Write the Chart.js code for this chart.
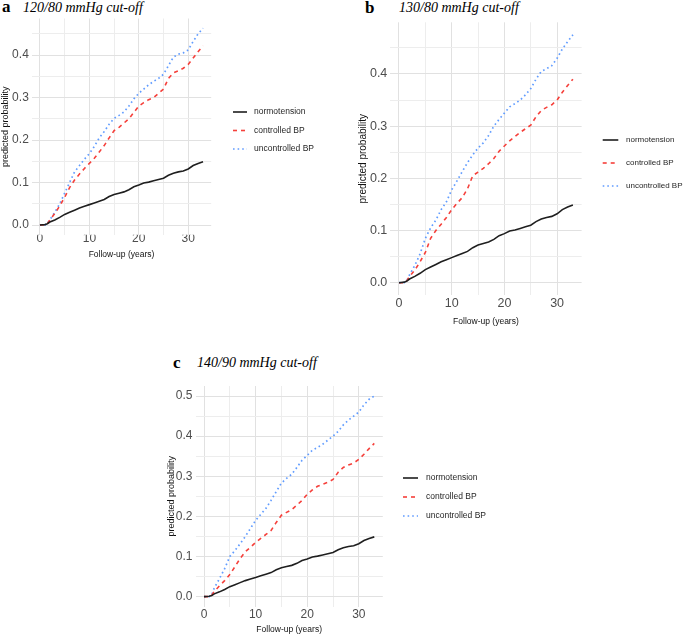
<!DOCTYPE html>
<html>
<head>
<meta charset="utf-8">
<script src="https://cdn.jsdelivr.net/npm/chart.js@4.4.1/dist/chart.umd.min.js"></script>
<style>
	html, body { margin: 0; padding: 0; background: #fff; overflow: hidden; }
	body { position: relative; width: 685px; height: 635px; }
	.box { position: absolute; }
	.tag, .cut { position: absolute; font-family: 'Liberation Serif', 'Times New Roman', serif; color: #000; white-space: nowrap; }
	.tag { font-size: 17px; line-height: 17px; font-weight: bold; }
	.cut { font-size: 14px; line-height: 14px; font-style: italic; }
</style>
</head>
<body>
<div class="tag" style="left:2px;top:-2px">a</div>
<div class="cut" style="left:23px;top:1px">120/80 mmHg cut-off</div>
<div class="tag" style="left:365px;top:-1px">b</div>
<div class="cut" style="left:399px;top:1px">130/80 mmHg cut-off</div>
<div class="tag" style="left:173px;top:354px">c</div>
<div class="cut" style="left:197px;top:356px">140/90 mmHg cut-off</div>

<div class="box" style="left:0px;top:0px"><canvas id="chartA" width="340" height="260"></canvas></div>
<div class="box" style="left:340px;top:0px"><canvas id="chartB" width="345" height="327"></canvas></div>
<div class="box" style="left:160px;top:370px"><canvas id="chartC" width="360" height="265"></canvas></div>

<script>
// follow-up years, same grid for every curve
const years = [0, 1, 1.5, 2, 3, 4, 5, 6, 7, 8, 9, 10, 11, 12, 13, 14, 15, 16, 17, 18, 19, 20, 21, 22, 23, 24, 25, 26, 27, 28, 29, 30, 31, 32, 33]

const seriesLabels = ['normotension', 'controlled BP', 'uncontrolled BP']

// normotension is the reference group, same curve on all panels
const normotension = [0, 0.001, 0.003, 0.007, 0.012, 0.018, 0.025, 0.03, 0.035, 0.04, 0.044, 0.048, 0.052, 0.056, 0.06, 0.067, 0.072, 0.075, 0.078, 0.083, 0.09, 0.094, 0.099, 0.101, 0.104, 0.107, 0.11, 0.117, 0.122, 0.125, 0.127, 0.132, 0.14, 0.145, 0.149]

// a: 120/80
const controlledA = [0, 0, 0.003, 0.012, 0.027, 0.045, 0.065, 0.088, 0.106, 0.12, 0.133, 0.145, 0.157, 0.172, 0.187, 0.205, 0.222, 0.23, 0.24, 0.25, 0.265, 0.28, 0.288, 0.295, 0.3, 0.31, 0.32, 0.345, 0.358, 0.363, 0.369, 0.378, 0.393, 0.408, 0.422]
const uncontrolledA = [0, 0, 0.004, 0.012, 0.03, 0.05, 0.075, 0.1, 0.125, 0.14, 0.155, 0.168, 0.185, 0.205, 0.22, 0.237, 0.251, 0.258, 0.266, 0.28, 0.297, 0.31, 0.32, 0.33, 0.338, 0.345, 0.355, 0.375, 0.395, 0.402, 0.405, 0.412, 0.432, 0.45, 0.463]

// b: 130/80
const controlledB = [0, 0, 0.004, 0.012, 0.024, 0.04, 0.058, 0.085, 0.1, 0.112, 0.125, 0.14, 0.152, 0.163, 0.18, 0.205, 0.212, 0.219, 0.228, 0.238, 0.252, 0.262, 0.272, 0.28, 0.288, 0.295, 0.302, 0.318, 0.33, 0.336, 0.341, 0.35, 0.365, 0.378, 0.39]
const uncontrolledB = [0, 0, 0.004, 0.015, 0.033, 0.055, 0.085, 0.105, 0.12, 0.14, 0.155, 0.178, 0.195, 0.213, 0.23, 0.245, 0.258, 0.268, 0.282, 0.3, 0.313, 0.325, 0.337, 0.343, 0.35, 0.36, 0.372, 0.39, 0.405, 0.41, 0.416, 0.43, 0.448, 0.462, 0.475]

// c: 140/90
const controlledC = [0, 0, 0.004, 0.013, 0.027, 0.04, 0.055, 0.075, 0.095, 0.112, 0.123, 0.135, 0.145, 0.155, 0.165, 0.185, 0.203, 0.21, 0.217, 0.228, 0.24, 0.255, 0.266, 0.275, 0.28, 0.285, 0.292, 0.31, 0.322, 0.328, 0.333, 0.342, 0.355, 0.369, 0.382]
const uncontrolledC = [0, 0, 0.005, 0.022, 0.045, 0.07, 0.1, 0.115, 0.132, 0.15, 0.17, 0.19, 0.205, 0.22, 0.24, 0.262, 0.283, 0.295, 0.305, 0.322, 0.34, 0.352, 0.365, 0.372, 0.38, 0.39, 0.4, 0.412, 0.428, 0.44, 0.45, 0.46, 0.478, 0.492, 0.5]

// gridlines every 5 years / 0.05, labels only on the major ones
const xTicks = [0, 5, 10, 15, 20, 25, 30]
const xTickLabels = ['0', '', '10', '', '20', '', '30']
const yTicksAB = [0, 0.05, 0.1, 0.15, 0.2, 0.25, 0.3, 0.35, 0.4, 0.45]
const yTickLabelsAB = ['0.0', '', '0.1', '', '0.2', '', '0.3', '', '0.4', '']
const yTicksC = [0, 0.05, 0.1, 0.15, 0.2, 0.25, 0.3, 0.35, 0.4, 0.45, 0.5]
const yTickLabelsC = ['0.0', '', '0.1', '', '0.2', '', '0.3', '', '0.4', '', '0.5']

const sans = "'Liberation Sans', Arial, sans-serif"
Chart.defaults.font.family = sans

const lineStyles = [
	{ borderColor: '#1f1f1f', borderWidth: 1.6, borderDash: [] },
	{ borderColor: '#f5403b', borderWidth: 1.6, borderDash: [4, 4] },
	{ borderColor: '#619cff', borderWidth: 1.7, borderDash: [1.6, 3] },
]

// legend drawn to the right of the panel, like ggplot does it
const sideLegend = {
	id: 'sideLegend',
	afterDraw(chart, args, opts) {
		const ctx = chart.ctx
		chart.data.datasets.forEach((ds, i) => {
			const y = opts.y + i * opts.gap
			ctx.save()
			ctx.strokeStyle = ds.borderColor
			ctx.lineWidth = ds.borderWidth
			ctx.setLineDash(ds.borderDash)
			ctx.beginPath()
			ctx.moveTo(opts.x, y)
			ctx.lineTo(opts.x + opts.len, y)
			ctx.stroke()
			ctx.setLineDash([])
			ctx.fillStyle = '#262626'
			ctx.font = opts.size + 'px ' + sans
			ctx.textBaseline = 'middle'
			ctx.fillText(ds.label, opts.x + opts.len + opts.space, y)
			ctx.restore()
		})
	},
}

function buildDatasets(curves) {
	return curves.map((vals, i) => ({
		label: seriesLabels[i],
		data: years.map((x, j) => ({ x: x, y: vals[j] })),
		...lineStyles[i],
		pointRadius: 0,
		tension: 0,
		fill: false,
	}))
}

function makePanel(id, curves, p) {
	const gridColor = labels => ctx => (labels[ctx.index] ? '#e1e1e1' : '#ededed')
	return new Chart(document.getElementById(id), {
		type: 'line',
		data: { datasets: buildDatasets(curves) },
		plugins: [sideLegend],
		options: {
			responsive: false,
			animation: false,
			layout: { padding: p.padding },
			plugins: {
				legend: { display: false },
				tooltip: { enabled: false },
				sideLegend: p.legend,
			},
			scales: {
				x: {
					type: 'linear',
					min: -1.65,
					max: 34.65,
					afterBuildTicks: s => {
						s.ticks = xTicks.map(v => ({ value: v }))
					},
					afterFit: s => {
						s.height = p.xHeight
					},
					ticks: {
						callback: (v, i) => xTickLabels[i],
						color: '#4d4d4d',
						font: { size: p.tickSize, lineHeight: 1 },
						padding: p.xPad,
						maxRotation: 0,
						autoSkip: false,
					},
					grid: { color: gridColor(xTickLabels), drawTicks: false },
					border: { display: false },
					title: {
						display: true,
						text: 'Follow-up (years)',
						color: '#111',
						font: { size: p.xTitleSize },
						padding: 0,
					},
				},
				y: {
					type: 'linear',
					min: p.yMin,
					max: p.yMax,
					afterBuildTicks: s => {
						s.ticks = p.yTicks.map(v => ({ value: v }))
					},
					afterFit: s => {
						s.width = p.yWidth
					},
					ticks: {
						callback: (v, i) => p.yLabels[i],
						color: '#4d4d4d',
						font: { size: p.tickSize },
						padding: 3,
						autoSkip: false,
					},
					grid: { color: gridColor(p.yLabels), drawTicks: false },
					border: { display: false },
					title: {
						display: true,
						text: 'predicted probability',
						color: '#111',
						font: { size: p.yTitleSize },
						padding: 0,
					},
				},
			},
		},
	})
}

makePanel('chartA', [normotension, controlledA, uncontrolledA], {
	padding: { left: 0, top: 18.5, right: 128.8, bottom: 0 },
	yMin: -0.023, yMax: 0.486,
	yTicks: yTicksAB, yLabels: yTickLabelsAB,
	yWidth: 31.8, xHeight: 25.2, xPad: -1.8,
	tickSize: 12, xTitleSize: 8.5, yTitleSize: 9,
	legend: { x: 233, y: 112, gap: 18.5, len: 14, space: 7, size: 8.5 },
})

makePanel('chartB', [normotension, controlledB, uncontrolledB], {
	padding: { left: 17, top: 22.3, right: 103.4, bottom: 0 },
	yMin: -0.024, yMax: 0.499,
	yTicks: yTicksAB, yLabels: yTickLabelsAB,
	yWidth: 33.3, xHeight: 31.8, xPad: 1.9,
	tickSize: 12.5, xTitleSize: 8.5, yTitleSize: 10,
	legend: { x: 262.7, y: 140, gap: 23, len: 15.6, space: 7.7, size: 8 },
})

makePanel('chartC', [normotension, controlledC, uncontrolledC], {
	padding: { left: 6.1, top: 16, right: 137.2, bottom: 0 },
	yMin: -0.025, yMax: 0.525,
	yTicks: yTicksC, yLabels: yTickLabelsC,
	yWidth: 29.4, xHeight: 28.3, xPad: 2.3,
	tickSize: 12, xTitleSize: 8.5, yTitleSize: 9,
	legend: { x: 243, y: 108, gap: 19, len: 15, space: 8, size: 8.5 },
})
</script>
</body>
</html>
